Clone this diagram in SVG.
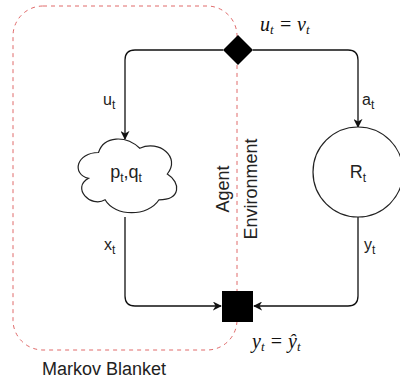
<svg xmlns="http://www.w3.org/2000/svg" width="400" height="385" viewBox="0 0 400 385">
<style>
.lbl{font-family:"Liberation Sans",Arial,sans-serif;font-size:16px;fill:#222}
.big{font-family:"Liberation Sans",Arial,sans-serif;font-size:18px;fill:#222}
.math{font-family:"Liberation Serif","Times New Roman",serif;font-style:italic;font-size:20px;fill:#111}
.edge{fill:none;stroke:#111;stroke-width:1.3}
.sub{font-size:12px}
.msub{font-size:13px}
</style>
<defs>
<marker id="arr" viewBox="0 0 10 10" refX="9" refY="5" markerWidth="9" markerHeight="9" markerUnits="userSpaceOnUse" orient="auto">
<path d="M0,0 L10,5 L0,10 L3,5 Z" fill="#111"/>
</marker>
</defs>
<rect width="400" height="385" fill="#fff"/>
<g id="markov-blanket">
<rect x="13" y="6" width="224" height="344" rx="30" ry="30" fill="none" stroke="#e06a6a" stroke-width="1" stroke-dasharray="4 4"/>
<text class="big" x="42" y="375">Markov Blanket</text>
</g>
<g id="connectors">
<path class="edge" d="M223 50 L135 50 Q125 50 125 60 L125 139" marker-end="url(#arr)"/>
<path class="edge" d="M253 50 L348 50 Q358 50 358 60 L358 127" marker-end="url(#arr)"/>
<path class="edge" d="M125 217 L125 296 Q125 306 135 306 L221 306" marker-end="url(#arr)"/>
<path class="edge" d="M358 217 L358 296 Q358 306 348 306 L254 306" marker-end="url(#arr)"/>
<text class="lbl" x="103" y="105">u<tspan class="sub" dy="4">t</tspan></text>
<text class="lbl" x="362" y="105">a<tspan class="sub" dy="4">t</tspan></text>
<text class="lbl" x="104" y="250">x<tspan class="sub" dy="4">t</tspan></text>
<text class="lbl" x="364" y="250">y<tspan class="sub" dy="4">t</tspan></text>
</g>
<g id="split">
<polygon points="223,50 238,35 253,50 238,65" fill="#000"/>
<text class="math" x="260" y="31">u<tspan class="msub" dy="3">t</tspan><tspan dy="-3"> = v</tspan><tspan class="msub" dy="3">t</tspan></text>
</g>
<g id="merge">
<rect x="222" y="291" width="31" height="31" fill="#000"/>
<text class="math" x="252" y="348">y<tspan class="msub" dy="3">t</tspan><tspan dy="-3"> = ŷ</tspan><tspan class="msub" dy="3">t</tspan></text>
</g>
<g id="agent-state">
<path d="M98.5,152.5 C76.5,152.5 71,174 88.6,178.3 C71,187.8 90.8,208.4 105.1,199.8 C115,217 148,217 159,199.8 C181,199.8 181,182.6 167.3,174 C181,156.8 159,139.6 139.8,148.2 C126,135.3 104,135.3 98.5,152.5 Z" fill="#fff" stroke="#222" stroke-width="1.2"/>
<text class="big" x="126" y="178" text-anchor="middle">p<tspan class="sub" dy="4">t</tspan><tspan dy="-4">,q</tspan><tspan class="sub" dy="4">t</tspan></text>
</g>
<g id="environment-state">
<circle cx="358" cy="172" r="45" fill="#fff" stroke="#222" stroke-width="1.2"/>
<text class="big" x="358" y="178" text-anchor="middle">R<tspan class="sub" dy="4">t</tspan></text>
</g>
<g id="boundary-labels">
<text class="big" transform="translate(229,189) rotate(-90)" text-anchor="middle">Agent</text>
<text class="big" transform="translate(257,189) rotate(-90)" text-anchor="middle">Environment</text>
</g>
</svg>
